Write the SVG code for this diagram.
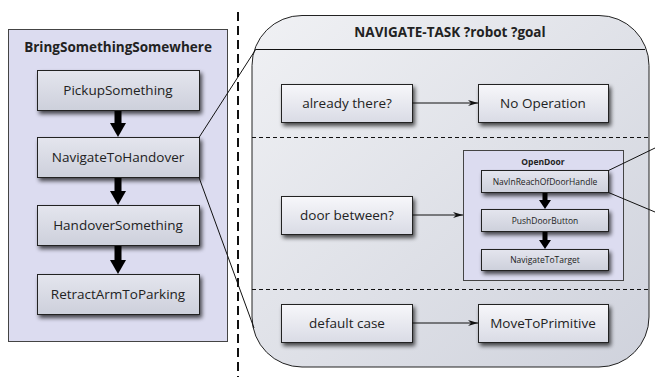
<svg xmlns="http://www.w3.org/2000/svg" width="655" height="377" viewBox="0 0 655 377">
<defs>
<linearGradient id="gBox" x1="0" y1="0" x2="0" y2="1">
<stop offset="0" stop-color="#e4e5ee"/>
<stop offset="1" stop-color="#cdd0db"/>
</linearGradient>
<linearGradient id="gWhite" x1="0" y1="0" x2="0" y2="1">
<stop offset="0" stop-color="#f7f7fa"/>
<stop offset="1" stop-color="#d9dbe5"/>
</linearGradient>
<linearGradient id="gPanel" x1="0" y1="0" x2="1" y2="1">
<stop offset="0" stop-color="#f0f1f4"/>
<stop offset="1" stop-color="#cfd2dc"/>
</linearGradient>
<filter id="sh" x="-10%" y="-20%" width="130%" height="160%">
<feGaussianBlur in="SourceAlpha" stdDeviation="2.2"/>
<feOffset dx="2" dy="3" result="b"/>
<feComponentTransfer><feFuncA type="linear" slope="0.7"/></feComponentTransfer>
<feMerge><feMergeNode/><feMergeNode in="SourceGraphic"/></feMerge>
</filter>
<marker id="thin" markerWidth="10" markerHeight="6" refX="10" refY="3" orient="auto" markerUnits="userSpaceOnUse">
<path d="M0,0 L10,3 L0,6 L3,3 Z" fill="#111"/>
</marker>
</defs>
<style>
text{font-family:"Open Sans","Liberation Sans",sans-serif;fill:#222;text-anchor:middle}
.t{font-size:13.5px}
.b{font-size:13.5px;font-weight:bold}
.s{font-size:8.5px}
.sb{font-size:8.5px;font-weight:bold}
.box{fill:url(#gBox);stroke:#222;stroke-width:1;filter:url(#sh)}
.wbox{fill:url(#gWhite);stroke:#222;stroke-width:1;filter:url(#sh)}
.cont{fill:#dcdcf0;stroke:#444;stroke-width:1}
.ln{stroke:#111;stroke-width:1;fill:none}
.dash{stroke:#111;stroke-width:1;stroke-dasharray:4 3;fill:none}
.thick{fill:#000}
</style>

<line x1="238" y1="12" x2="238" y2="377" stroke="#111" stroke-width="2" stroke-dasharray="9 5"/>

<g id="bring">
<rect class="cont" x="8.5" y="29.5" width="219" height="312"/>
<text class="b" x="118" y="52">BringSomethingSomewhere</text>
</g>
<g id="pickup">
<rect class="box" x="37.5" y="70.5" width="162" height="40"/>
<text class="t" x="118" y="95">PickupSomething</text>
</g>
<g id="navHandover">
<rect class="box" x="37.5" y="137.5" width="162" height="40"/>
<text class="t" x="118" y="162">NavigateToHandover</text>
</g>
<g id="handover">
<rect class="box" x="37.5" y="205.5" width="162" height="40"/>
<text class="t" x="118" y="230">HandoverSomething</text>
</g>
<g id="retract">
<rect class="box" x="37.5" y="274.5" width="162" height="40"/>
<text class="t" x="118" y="299">RetractArmToParking</text>
</g>

<g id="navtask">
<rect x="252" y="15.5" width="397" height="351.5" rx="50" ry="50" fill="url(#gPanel)" stroke="#222" stroke-width="1"/>
<line class="ln" x1="256" y1="49.5" x2="645" y2="49.5"/>
<line class="dash" x1="252" y1="137.5" x2="649" y2="137.5"/>
<line class="dash" x1="252" y1="289.5" x2="649" y2="289.5"/>
<text class="b" x="450" y="37">NAVIGATE-TASK ?robot ?goal</text>
</g>
<g id="already">
<rect class="wbox" x="281.5" y="84.5" width="131" height="38"/>
<text class="t" x="347" y="108">already there?</text>
</g>
<g id="noop">
<rect class="wbox" x="478.5" y="84.5" width="130" height="38"/>
<text class="t" x="543" y="108">No Operation</text>
</g>
<g id="doorBetween">
<rect class="wbox" x="281.5" y="196.5" width="131" height="38"/>
<text class="t" x="347" y="220">door between?</text>
</g>
<g id="default">
<rect class="wbox" x="281.5" y="304.5" width="131" height="38"/>
<text class="t" x="347" y="328">default case</text>
</g>
<g id="moveTo">
<rect class="wbox" x="478.5" y="304.5" width="130" height="38"/>
<text class="t" x="543" y="328">MoveToPrimitive</text>
</g>
<g id="openDoor">
<rect class="cont" x="463.5" y="150.5" width="160" height="130"/>
<text class="sb" x="543" y="165">OpenDoor</text>
</g>
<g id="navReach">
<rect class="box" x="481.5" y="170.5" width="127" height="22"/>
<text class="s" x="545" y="184.5">NavInReachOfDoorHandle</text>
</g>
<g id="push">
<rect class="box" x="481.5" y="209.5" width="127" height="22"/>
<text class="s" x="545" y="223.5">PushDoorButton</text>
</g>
<g id="navTarget">
<rect class="box" x="481.5" y="249.5" width="127" height="21"/>
<text class="s" x="545" y="263">NavigateToTarget</text>
</g>

<g id="connectors">
<rect class="thick" x="114.5" y="111" width="7" height="14"/>
<path class="thick" d="M110,123 L126,123 L118,137 Z"/>
<rect class="thick" x="114.5" y="178" width="7" height="15"/>
<path class="thick" d="M110,191 L126,191 L118,205 Z"/>
<rect class="thick" x="114.5" y="246" width="7" height="15"/>
<path class="thick" d="M110,260 L126,260 L118,274 Z"/>
<rect class="thick" x="542.5" y="193" width="5" height="8"/>
<path class="thick" d="M539,200 L551,200 L545,209 Z"/>
<rect class="thick" x="542.5" y="232" width="5" height="9"/>
<path class="thick" d="M539,240 L551,240 L545,249 Z"/>
<line class="ln" x1="412" y1="103" x2="478" y2="103" marker-end="url(#thin)"/>
<line class="ln" x1="412" y1="215" x2="463" y2="215" marker-end="url(#thin)"/>
<line class="ln" x1="412" y1="323" x2="478" y2="323" marker-end="url(#thin)"/>
<line class="ln" x1="199" y1="137.5" x2="256" y2="49"/>
<line class="ln" x1="199" y1="177.5" x2="254" y2="328"/>
<line class="ln" x1="608.5" y1="170.5" x2="655" y2="148"/>
<line class="ln" x1="608.5" y1="192.5" x2="655" y2="212"/>
</g>
</svg>
